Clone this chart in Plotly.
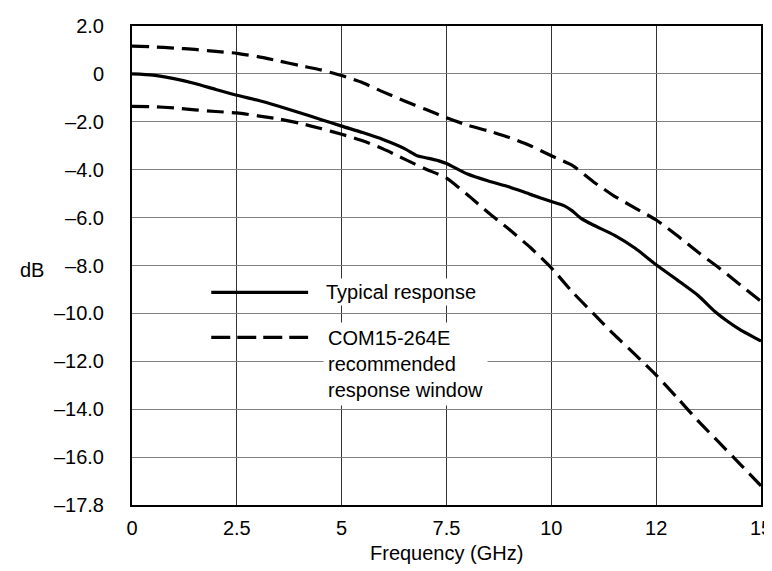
import plotly.graph_objects as go

# ---- data ----
freq_typ = [0, 0.5, 1.0, 1.5, 2.0, 2.5, 3.0, 3.5, 4.0, 4.5, 5.0, 5.5, 6.0, 6.5, 6.8, 7.0, 7.3, 7.5,
            8.0, 8.5, 9.0, 9.5, 10.0, 10.3, 10.5, 10.7, 11.0, 11.5, 12.0, 12.5, 13.0, 13.5, 13.9,
            14.2, 14.5, 15.0]
db_typ = [0, -0.05, -0.2, -0.4, -0.65, -0.89, -1.1, -1.35, -1.62, -1.9, -2.18, -2.45, -2.75, -3.12,
          -3.42, -3.5, -3.62, -3.74, -4.18, -4.47, -4.72, -5.03, -5.33, -5.5, -5.72, -6.02, -6.31,
          -6.73, -7.28, -7.97, -8.6, -9.25, -9.92, -10.33, -10.68, -11.16]

freq_win = [0, 0.5, 1.0, 1.5, 2.0, 2.5, 3.0, 3.5, 4.0, 4.5, 5.0, 5.5, 6.0, 6.5, 7.0, 7.5, 8.0, 8.5,
            9.0, 9.5, 10.0, 10.5, 11.0, 11.5, 12.0, 12.5, 13.0, 13.5, 14.0, 14.5, 15.0]
db_upper = [1.16, 1.13, 1.08, 1.02, 0.94, 0.86, 0.72, 0.54, 0.35, 0.17, -0.07, -0.37, -0.76, -1.13,
            -1.48, -1.83, -2.14, -2.38, -2.66, -3.0, -3.42, -3.82, -4.5, -5.1, -5.6, -6.1, -6.75,
            -7.45, -8.1, -8.8, -9.5]
db_lower = [-1.36, -1.37, -1.42, -1.5, -1.57, -1.63, -1.75, -1.88, -2.06, -2.28, -2.52, -2.79, -3.14,
            -3.56, -3.97, -4.35, -5.05, -5.8, -6.5, -7.25, -8.1, -9.1, -10.0, -10.89, -11.72, -12.58,
            -13.52, -14.49, -15.39, -16.29, -17.2]

x_tickvals = [0, 2.5, 5, 7.5, 10, 12.5, 15]
x_ticktext = ["0", "2.5", "5", "7.5", "10", "12", "15"]
y_tickvals = [2, 0, -2, -4, -6, -8, -10, -12, -14, -16, -18]
y_ticktext = ["2.0", "0", "–2.0", "–4.0", "–6.0", "–8.0", "–10.0", "–12.0", "–14.0", "–16.0", "–17.8"]

legend_typ = "Typical response"
legend_win = "COM15-264E<br>recommended<br>response window"
x_title = "Frequency (GHz)"
y_title = "dB"

FONT = "Liberation Sans Narrow, Arial Narrow, Liberation Sans, Arial, sans-serif"
FS = 20
DASH = "17px,8px"
LW = 3.2

fig = go.Figure()
fig.add_trace(go.Scatter(x=freq_win, y=db_upper, mode="lines",
                         line=dict(color="black", width=LW, dash=DASH, shape="spline", smoothing=0.6),
                         showlegend=False, hoverinfo="skip"))
fig.add_trace(go.Scatter(x=freq_win, y=db_lower, mode="lines",
                         line=dict(color="black", width=LW, dash=DASH, shape="spline", smoothing=0.6),
                         showlegend=False, hoverinfo="skip"))
fig.add_trace(go.Scatter(x=freq_typ, y=db_typ, mode="lines",
                         line=dict(color="black", width=LW, shape="spline", smoothing=0.6),
                         showlegend=False, hoverinfo="skip"))

# legend drawn inside the plot
fig.add_shape(type="line", xref="x", yref="y", x0=1.89, x1=4.2, y0=-9.12, y1=-9.12,
              line=dict(color="black", width=LW))
fig.add_shape(type="line", xref="x", yref="y", x0=1.89, x1=4.2, y0=-11.0, y1=-11.0,
              line=dict(color="black", width=LW, dash="19px,7px"))
fig.add_annotation(x=4.55, y=-9.12, xref="x", yref="y", text=legend_typ, showarrow=False,
                   xanchor="left", yanchor="middle", align="left", bgcolor="white", borderpad=2,
                   font=dict(family=FONT, size=FS, color="black"))
fig.add_annotation(x=4.55, y=-11.0, xref="x", yref="y", text=legend_win, showarrow=False,
                   xanchor="left", yanchor="top", yshift=15, align="left", bgcolor="white",
                   borderpad=4, font=dict(family=FONT, size=FS, color="black"))
fig.add_annotation(x=-0.159, y=-8.2, xref="paper", yref="y", text=y_title, showarrow=False,
                   xanchor="center", yanchor="middle", font=dict(family=FONT, size=FS, color="black"))
fig.add_annotation(x=0.5, y=-0.1, xref="paper", yref="paper", text=x_title, showarrow=False,
                   xanchor="center", yanchor="middle", font=dict(family=FONT, size=FS, color="black"))

fig.update_layout(
    width=772, height=571,
    margin=dict(l=124, r=19, t=18, b=74),
    paper_bgcolor="white", plot_bgcolor="white",
    font=dict(family=FONT, size=FS, color="black"),
    showlegend=False,
)
fig.update_xaxes(range=[0, 15], tickvals=x_tickvals, ticktext=x_ticktext, ticks="",
                 showgrid=True, gridcolor="#333333", gridwidth=1, zeroline=False,
                 showline=True, linecolor="black", linewidth=2, mirror=True,
                 ticklabelstandoff=4, automargin=False)
fig.update_yaxes(range=[-18, 2], tickvals=y_tickvals, ticktext=y_ticktext, ticks="",
                 showgrid=True, gridcolor="#808080", gridwidth=1, zeroline=False,
                 showline=True, linecolor="black", linewidth=2, mirror=True,
                 ticklabelstandoff=22, automargin=False)

fig.write_html("out.html")
